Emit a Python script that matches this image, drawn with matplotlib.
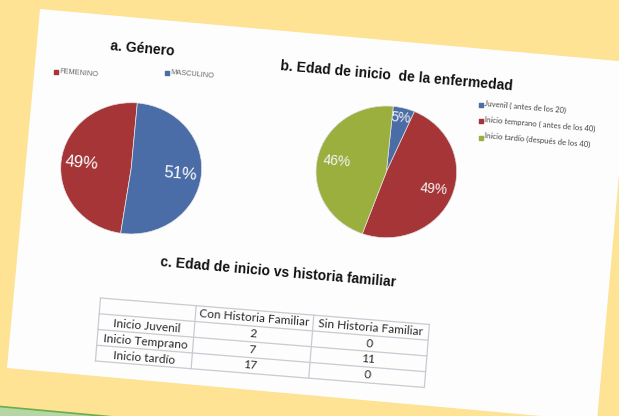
import matplotlib
matplotlib.use("Agg")
import matplotlib.pyplot as plt
from matplotlib.patches import Polygon
from matplotlib.transforms import Affine2D
import numpy as np

# ---------------- data ----------------
genero_labels = ["FEMENINO", "MASCULINO"]
genero_pct = [49, 51]
genero_colors = ["#A63537", "#4A6DA7"]

edad_labels = ["Juvenil ( antes de los 20)",
               "Inicio temprano ( antes de los 40)",
               "Inicio tardío (después de los 40)"]
edad_pct = [5, 49, 46]
edad_colors = ["#4A6DA7", "#A63537", "#9AAF3E"]

tabla_filas = ["Inicio Juvenil", "Inicio Temprano", "Inicio tardío"]
tabla_cols = ["Con Historia Familiar", "Sin Historia Familiar"]
con_historia = [2, 7, 17]
sin_historia = [0, 11, 0]

title_a = "a. Género"
title_b = "b. Edad de inicio  de la enfermedad"
title_c = "c. Edad de inicio vs historia familiar"

# ---------------- figure ----------------
W, H = 619, 416
fig = plt.figure(figsize=(W / 100, H / 100), dpi=100)
fig.patch.set_facecolor("#FEE395")
ax = fig.add_axes([0, 0, 1, 1])
ax.set_xlim(0, W)
ax.set_ylim(H, 0)
ax.axis("off")

# green strip bottom-left
ax.add_patch(Polygon([(0, 406.5), (114, 417), (0, 417)], closed=True,
                     facecolor="#B6D6A6", edgecolor="none", zorder=1))
ax.plot([0, 114], [406.5, 417], color="#6AAE48", lw=1.2, zorder=1.5)

# white sheet
ax.add_patch(Polygon([(40, 9), (629, 62), (597, 421), (7, 368)], closed=True,
                     facecolor="#FDFDFD", edgecolor="none", zorder=2))

ROT = -5
TITLE_FONT = dict(family="Liberation Sans", weight="bold", size=10, color="#111111")

ax.text(142, 48.5, title_a, ha="center", va="center", rotation=ROT, zorder=5, **TITLE_FONT)
ax.text(397, 76, title_b, ha="center", va="center", rotation=ROT, zorder=5, **TITLE_FONT)
ax.text(278, 272, title_c, ha="center", va="center", rotation=ROT, zorder=5, **TITLE_FONT)

# legend a
leg_a_pos = [(56, 72), (167, 73)]
for (x, y), lab, col in zip(leg_a_pos, genero_labels, genero_colors):
    ax.scatter([x], [y], marker="s", s=5, color=col, zorder=6)
    ax.text(x + 3, y + 1.5, lab, ha="left", va="center", rotation=ROT,
            family="Liberation Sans", size=5.3, color="#666666", zorder=6)

# legend b
leg_b_pos = [(481, 104.5), (481, 121), (481, 137.5)]
for (x, y), lab, col in zip(leg_b_pos, edad_labels, edad_colors):
    ax.scatter([x], [y], marker="s", s=6, color=col, zorder=6)
    ax.text(x + 3, y + 3, lab, ha="left", va="center", rotation=ROT,
            family="Lato", size=5.5, color="#444444", zorder=6)


def pie_axes(x0, x1, y0, y1):
    a = fig.add_axes([x0 / W, (H - y1) / H, (x1 - x0) / W, (y1 - y0) / H])
    return a


# pie a
pa = pie_axes(60.7, 201.7, 102.7, 234)
w, t, at = pa.pie(genero_pct, colors=genero_colors, startangle=85, counterclock=True,
                  autopct="%.0f%%", pctdistance=0.7, radius=1,
                  wedgeprops=dict(edgecolor="#E8E8E8", linewidth=0.5),
                  textprops=dict(color="white", family="Liberation Sans", size=12))
for tt in at:
    tt.set_rotation(ROT)
pa.set_aspect("auto")
pa.set_xlim(-1, 1)
pa.set_ylim(-1, 1)
pa.axis("off")

# pie b
pb = pie_axes(316, 456.7, 106, 237.7)
w, t, at = pb.pie(edad_pct, colors=edad_colors, startangle=84.4, counterclock=False,
                  autopct="%.0f%%", pctdistance=0.72, radius=1,
                  wedgeprops=dict(edgecolor="#E0E0E0", linewidth=0.5),
                  textprops=dict(color="#F4F4F4", family="Liberation Sans", size=10))
for tt in at:
    tt.set_rotation(ROT)
# move the small-slice label a bit outward along its own wedge
wd = w[0]
mid = np.deg2rad((wd.theta1 + wd.theta2) / 2)
at[0].set_position((0.84 * np.cos(mid), 0.84 * np.sin(mid)))
pb.set_aspect("auto")
pb.set_xlim(-1, 1)
pb.set_ylim(-1, 1)
pb.axis("off")

# ---------------- table ----------------
ANG = 4.6
tr = Affine2D().rotate_deg(ANG).translate(100.5, 298) + ax.transData
col_w = [96, 118, 116]
row_h = 15.8
n_rows = 1 + len(tabla_filas)
xs = np.concatenate([[0], np.cumsum(col_w)])
ys = np.arange(n_rows + 1) * row_h
grid_kw = dict(color="#C9CAD3", lw=0.9, transform=tr, zorder=4)
for yv in ys:
    ax.plot([xs[0], xs[-1]], [yv, yv], **grid_kw)
for xv in xs:
    ax.plot([xv, xv], [ys[0], ys[-1]], **grid_kw)

cell_font = dict(family="Lato", size=8.6, color="#2A2A2A", ha="center", va="center",
                 rotation=-ANG, transform=tr, zorder=5)
cx = (xs[:-1] + xs[1:]) / 2
for j, lab in enumerate(tabla_cols):
    ax.text(cx[j + 1], row_h * 0.5, lab, **cell_font)
for i, lab in enumerate(tabla_filas):
    yc = row_h * (i + 1.5)
    ax.text(cx[0], yc + 1, lab, **cell_font)
    ax.text(cx[1], yc, str(con_historia[i]), **cell_font)
    ax.text(cx[2], yc, str(sin_historia[i]), **cell_font)

fig.savefig("out.png", dpi=100, facecolor=fig.get_facecolor())
